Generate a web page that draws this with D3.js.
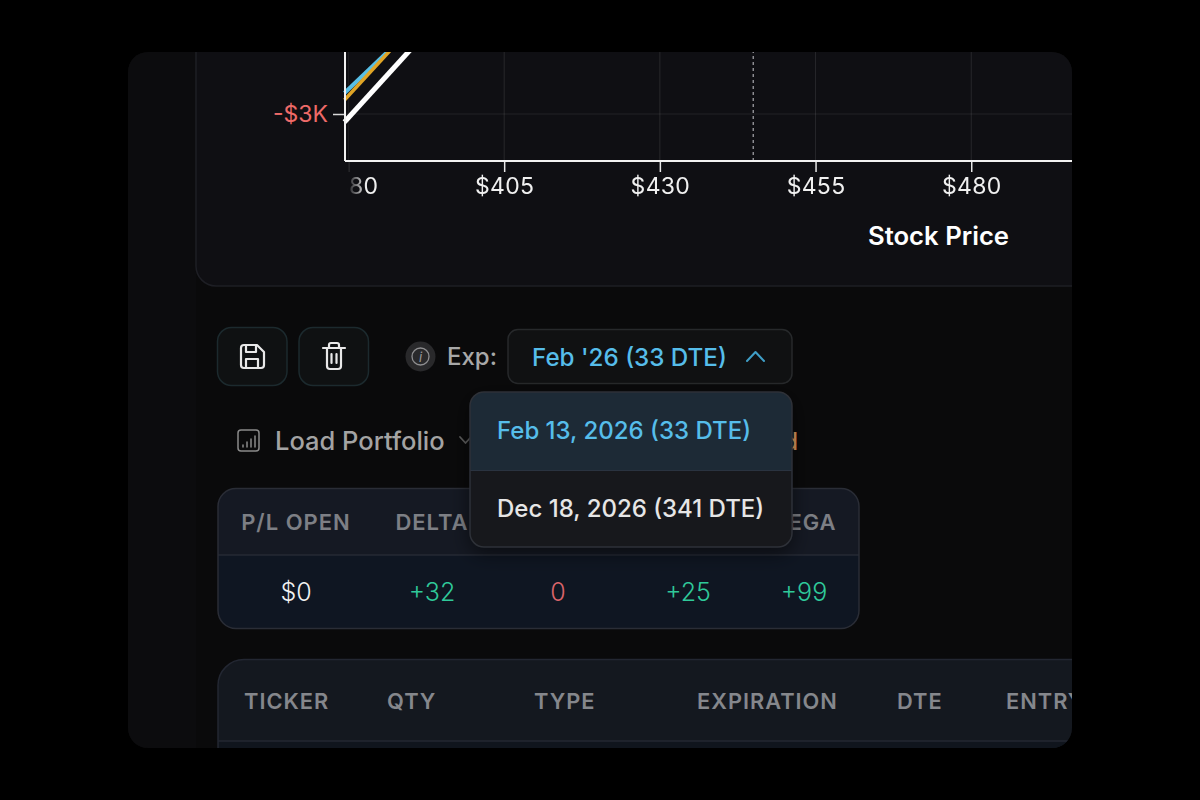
<!DOCTYPE html>
<html>
<head>
<meta charset="utf-8">
<style>
  html, body { margin: 0; background: #000; }
  svg { display: block; }
  text { font-family: Inter, "Noto Sans", sans-serif; }
</style>
<script src="https://cdn.jsdelivr.net/npm/d3@7"></script>
</head>
<body>
<div id="chartContainer"></div>
<script>
// values
var xTicks = [380, 405, 430, 455, 480];
var yTicks = [-3000];
var currentPrice = 445;
var bluePrices = [379.36, 387.0];
var blueValues = [-2548, -1570];
var orangePrices = [379.36, 387.2];
var orangeValues = [-2700, -1560];
var whitePrices = [379.36, 390.4];
var whiteValues = [-3172, -1550];

// GAMMA and THETA headers sit behind the open menu, so only these are seen
var metricLabels = ["P/L OPEN", "DELTA", "VEGA"];
var metricValues = ["$0", "+32", "0", "+25", "+99"];
var metricColors = ["#f1f1f1", "#2fc99a", "#d9646a", "#2fc99a", "#2fc99a"];
var positionColumns = ["TICKER", "QTY", "TYPE", "EXPIRATION", "DTE", "ENTRY"];
var expiryOptions = ["Feb 13, 2026 (33 DTE)", "Dec 18, 2026 (341 DTE)"];

var svg = d3.select("#chartContainer").append("svg").attr("width", 1200).attr("height", 800);
var defs = svg.append("defs");

defs.append("clipPath").attr("id", "frame")
  .append("rect").attr("x", 128).attr("y", 52).attr("width", 944).attr("height", 696).attr("rx", 20);

// the first x label fades out against the y axis
var fade = defs.append("linearGradient").attr("id", "fade").attr("gradientUnits", "userSpaceOnUse")
  .attr("x1", 347).attr("x2", 366).attr("y1", 0).attr("y2", 0);
fade.append("stop").attr("offset", 0).attr("stop-color", "#000");
fade.append("stop").attr("offset", 1).attr("stop-color", "#fff");
defs.append("mask").attr("id", "xFade").attr("maskUnits", "userSpaceOnUse")
  .attr("x", 300).attr("y", 0).attr("width", 900).attr("height", 300)
  .append("rect").attr("x", 300).attr("y", 0).attr("width", 900).attr("height", 300).attr("fill", "url(#fade)");

var shadow = defs.append("filter").attr("id", "shadow").attr("x", "-20%").attr("y", "-20%").attr("width", "140%").attr("height", "150%");
shadow.append("feDropShadow").attr("dx", 0).attr("dy", 6).attr("stdDeviation", 10)
  .attr("flood-color", "#000").attr("flood-opacity", 0.55);

var page = svg.append("g").attr("clip-path", "url(#frame)");
page.append("rect").attr("x", 128).attr("y", 52).attr("width", 944).attr("height", 696).attr("fill", "#0a0a0b");
page.append("rect").attr("x", 128).attr("y", 52).attr("width", 68).attr("height", 696).attr("fill", "#0c0c0e");

// chart card
page.append("rect").attr("x", 196).attr("y", 20).attr("width", 920).attr("height", 266).attr("rx", 20)
  .attr("fill", "#0f0f13").attr("stroke", "#1e1f25").attr("stroke-width", 1.5);

// scales
var x = d3.scaleLinear().domain([379.36, 496.1]).range([344.5, 1071.5]);
var y = d3.scaleLinear().domain([-4000, -1500]).range([160.5, 44.25]);

// grid
page.selectAll("line.gridx").data(xTicks).enter().append("line").attr("class", "gridx")
  .attr("x1", function (d) { return x(d); }).attr("x2", function (d) { return x(d); })
  .attr("y1", 44).attr("y2", 160)
  .attr("stroke", "#fff").attr("stroke-opacity", function (d) { return d === 380 ? 0.05 : 0.1; });
page.selectAll("line.gridy").data(yTicks).enter().append("line").attr("class", "gridy")
  .attr("x1", 345).attr("x2", 1072)
  .attr("y1", function (d) { return y(d); }).attr("y2", function (d) { return y(d); })
  .attr("stroke", "#fff").attr("stroke-opacity", 0.08);

// current price marker
page.append("line")
  .attr("x1", x(currentPrice)).attr("x2", x(currentPrice)).attr("y1", 44).attr("y2", 160)
  .attr("stroke", "#8d8d92").attr("stroke-width", 1.5).attr("stroke-dasharray", "3,3");

// pay-off lines
var line = d3.line().x(function (d) { return x(d[0]); }).y(function (d) { return y(d[1]); });
[[bluePrices, blueValues, "#58bfe6", 4], [orangePrices, orangeValues, "#e0a526", 3.5], [whitePrices, whiteValues, "#ffffff", 5]]
  .forEach(function (s) {
    page.append("path").datum(d3.zip(s[0], s[1])).attr("d", line)
      .attr("fill", "none").attr("stroke", s[2]).attr("stroke-width", s[3]);
  });

// axes
var xAxis = page.append("g").attr("transform", "translate(0,161)").attr("mask", "url(#xFade)")
  .call(d3.axisBottom(x).tickValues(xTicks).tickSize(11).tickPadding(6)
    .tickFormat(function (d) { return "$" + d; }));
xAxis.select(".domain").remove();
xAxis.selectAll("line").attr("stroke", "#e8e8e8").attr("stroke-width", 1.5);
xAxis.selectAll("text").attr("fill", "#f0f0f0").style("font-size", "23px").style("letter-spacing", "0.3px");

page.append("line").attr("x1", 345).attr("x2", 1072).attr("y1", 161).attr("y2", 161)
  .attr("stroke", "#f2f2f2").attr("stroke-width", 2);

var yAxis = page.append("g").attr("transform", "translate(345,0)")
  .call(d3.axisLeft(y).tickValues(yTicks).tickSize(12).tickPadding(5)
    .tickFormat(function (d) { return "-$" + Math.abs(d / 1000) + "K"; }));
yAxis.select(".domain").remove();
yAxis.selectAll("line").attr("stroke", "#d8d8d8").attr("stroke-width", 1.5);
yAxis.selectAll("text").attr("fill", "#ee6a68").style("font-size", "23px");
page.append("line").attr("x1", 345).attr("x2", 345).attr("y1", 44).attr("y2", 161)
  .attr("stroke", "#f2f2f2").attr("stroke-width", 2);

page.append("text").attr("x", 938.5).attr("y", 245).attr("text-anchor", "middle")
  .attr("fill", "#fff").style("font-size", "25.7px").style("font-weight", 600).text("Stock Price");

// toolbar buttons
[217.5, 299].forEach(function (bx) {
  page.append("rect").attr("x", bx).attr("y", 327.5).attr("width", 69.5).attr("height", 58).attr("rx", 14)
    .attr("fill", "#0f1112").attr("stroke", "#1c2a2e").attr("stroke-width", 1.5);
});
var iconStroke = { fill: "none", stroke: "#e8e8e8", "stroke-width": 2.2, "stroke-linejoin": "round", "stroke-linecap": "round" };
function icon(d, color, width) {
  var p = page.append("path").attr("d", d);
  Object.keys(iconStroke).forEach(function (k) { p.attr(k, iconStroke[k]); });
  if (color) p.attr("stroke", color);
  if (width) p.attr("stroke-width", width);
  return p;
}
// save
icon("M241 348a3 3 0 0 1 3-3h13l7 7v13a3 3 0 0 1-3 3h-17a3 3 0 0 1-3-3z");
icon("M246 345v7h10v-7M246 368v-9h12v9");
// trash
icon("M323 348h22M329 348v-3a2 2 0 0 1 2-2h6a2 2 0 0 1 2 2v3M327 348v18a3 3 0 0 0 3 3h8a3 3 0 0 0 3-3v-18M331.5 354v9M336.5 354v9");

// expiry selector
page.append("circle").attr("cx", 420.5).attr("cy", 356.5).attr("r", 15).attr("fill", "#29292b");
page.append("circle").attr("cx", 420.5).attr("cy", 356.5).attr("r", 8.5)
  .attr("fill", "none").attr("stroke", "#8e8e90").attr("stroke-width", 1.3);
page.append("text").attr("x", 420.5).attr("y", 361.5).attr("text-anchor", "middle")
  .attr("fill", "#9a9a9c").style("font-size", "13px").style("font-style", "italic").text("i");
page.append("text").attr("x", 447).attr("y", 365).attr("fill", "#a8a8a8")
  .style("font-size", "24px").style("font-weight", 500).text("Exp:");
page.append("rect").attr("x", 508).attr("y", 329.5).attr("width", 284).attr("height", 54).attr("rx", 10)
  .attr("fill", "#101112").attr("stroke", "#27292b").attr("stroke-width", 1.5);
page.append("text").attr("x", 532).attr("y", 366).attr("fill", "#56bdea")
  .style("font-size", "24.2px").style("font-weight", 500).text("Feb '26 (33 DTE)");
icon("M747 361l8.5-9 8.5 9", "#3f9ec6", 2);

// portfolio row
page.append("rect").attr("x", 238).attr("y", 430).attr("width", 21).attr("height", 21).attr("rx", 3)
  .attr("fill", "none").attr("stroke", "#8a8a8a").attr("stroke-width", 1.5);
icon("M243 447v-2M247 447v-5M251 447v-8M255 447v-11", "#8a8a8a", 1.5);
page.append("text").attr("x", 275).attr("y", 450).attr("fill", "#a3a3a3")
  .style("font-size", "25.5px").style("font-weight", 500).text("Load Portfolio");
icon("M460 437l5.5 6 5.5-6", "#5d5d5d", 1.8);
// status text, almost entirely covered by the menu
page.append("text").attr("x", 798).attr("y", 450).attr("text-anchor", "end")
  .style("font-size", "24px").style("font-weight", 500).attr("fill", "#d99a5e").text("Unsaved");

// metrics table
var metricLabelPositions = [296, 432, 804];
var metricPositions = [296, 432, 558, 688, 804];
defs.append("clipPath").attr("id", "metricClip")
  .append("rect").attr("x", 218).attr("y", 488.5).attr("width", 641).attr("height", 140).attr("rx", 18);
var metrics = page.append("g");
var metricsBody = metrics.append("g").attr("clip-path", "url(#metricClip)");
metricsBody.append("rect").attr("x", 218).attr("y", 488).attr("width", 641).attr("height", 67).attr("fill", "#151923");
metricsBody.append("rect").attr("x", 218).attr("y", 555).attr("width", 641).attr("height", 74).attr("fill", "#0f1622");
metrics.append("line").attr("x1", 218).attr("x2", 859).attr("y1", 555).attr("y2", 555).attr("stroke", "#262a34").attr("stroke-width", 1.5);
metrics.append("rect").attr("x", 218).attr("y", 488.5).attr("width", 641).attr("height", 140).attr("rx", 18)
  .attr("fill", "none").attr("stroke", "#2a2d36").attr("stroke-width", 1.5);
metrics.selectAll("text.label").data(metricLabels).enter().append("text").attr("class", "label")
  .attr("x", function (d, i) { return metricLabelPositions[i]; }).attr("y", 530).attr("text-anchor", "middle")
  .attr("fill", "#7d7f85").style("font-size", "22px").style("font-weight", 600).style("letter-spacing", "1px")
  .text(function (d) { return d; });
metrics.selectAll("text.value").data(metricValues).enter().append("text").attr("class", "value")
  .attr("x", function (d, i) { return metricPositions[i]; }).attr("y", 601).attr("text-anchor", "middle")
  .attr("fill", function (d, i) { return metricColors[i]; })
  .style("font-size", "25px").style("font-weight", 300)
  .text(function (d) { return d; });

// positions table
var columnPositions = [244, 387, 534, 697, 897, 1006];
page.append("rect").attr("x", 218).attr("y", 659.5).attr("width", 900).attr("height", 140).attr("rx", 26)
  .attr("fill", "#14181f").attr("stroke", "#232732").attr("stroke-width", 1.5);
page.append("rect").attr("x", 219).attr("y", 741).attr("width", 860).attr("height", 10).attr("fill", "#10151d");
page.append("line").attr("x1", 218).attr("x2", 1072).attr("y1", 741).attr("y2", 741).attr("stroke", "#232732").attr("stroke-width", 1.5);
page.selectAll("text.col").data(positionColumns).enter().append("text").attr("class", "col")
  .attr("x", function (d, i) { return columnPositions[i]; }).attr("y", 709)
  .attr("fill", "#85878c").style("font-size", "21.8px").style("font-weight", 600).style("letter-spacing", "1px")
  .text(function (d) { return d; });

// open dropdown on top of everything
defs.append("clipPath").attr("id", "menuClip")
  .append("rect").attr("x", 470).attr("y", 392).attr("width", 322).attr("height", 155).attr("rx", 14);
page.append("rect").attr("x", 470).attr("y", 392).attr("width", 322).attr("height", 155).attr("rx", 14)
  .attr("fill", "#17181c").attr("filter", "url(#shadow)");
var menu = page.append("g").attr("clip-path", "url(#menuClip)");
menu.append("rect").attr("x", 470).attr("y", 392).attr("width", 322).attr("height", 78).attr("fill", "#1d2a36");
menu.append("rect").attr("x", 470).attr("y", 470).attr("width", 322).attr("height", 77).attr("fill", "#17181c");
page.append("line").attr("x1", 470).attr("x2", 792).attr("y1", 470.5).attr("y2", 470.5).attr("stroke", "#2a3340");
page.append("rect").attr("x", 470).attr("y", 392).attr("width", 322).attr("height", 155).attr("rx", 14)
  .attr("fill", "none").attr("stroke", "#2e3138").attr("stroke-width", 1.5);
page.selectAll("text.opt").data(expiryOptions).enter().append("text").attr("class", "opt")
  .attr("x", 497).attr("y", function (d, i) { return 439 + i * 78; })
  .attr("fill", function (d, i) { return i === 0 ? "#56bdea" : "#e6e6e6"; })
  .style("font-size", "24px").style("font-weight", 500)
  .text(function (d) { return d; });
</script>
</body>
</html>
